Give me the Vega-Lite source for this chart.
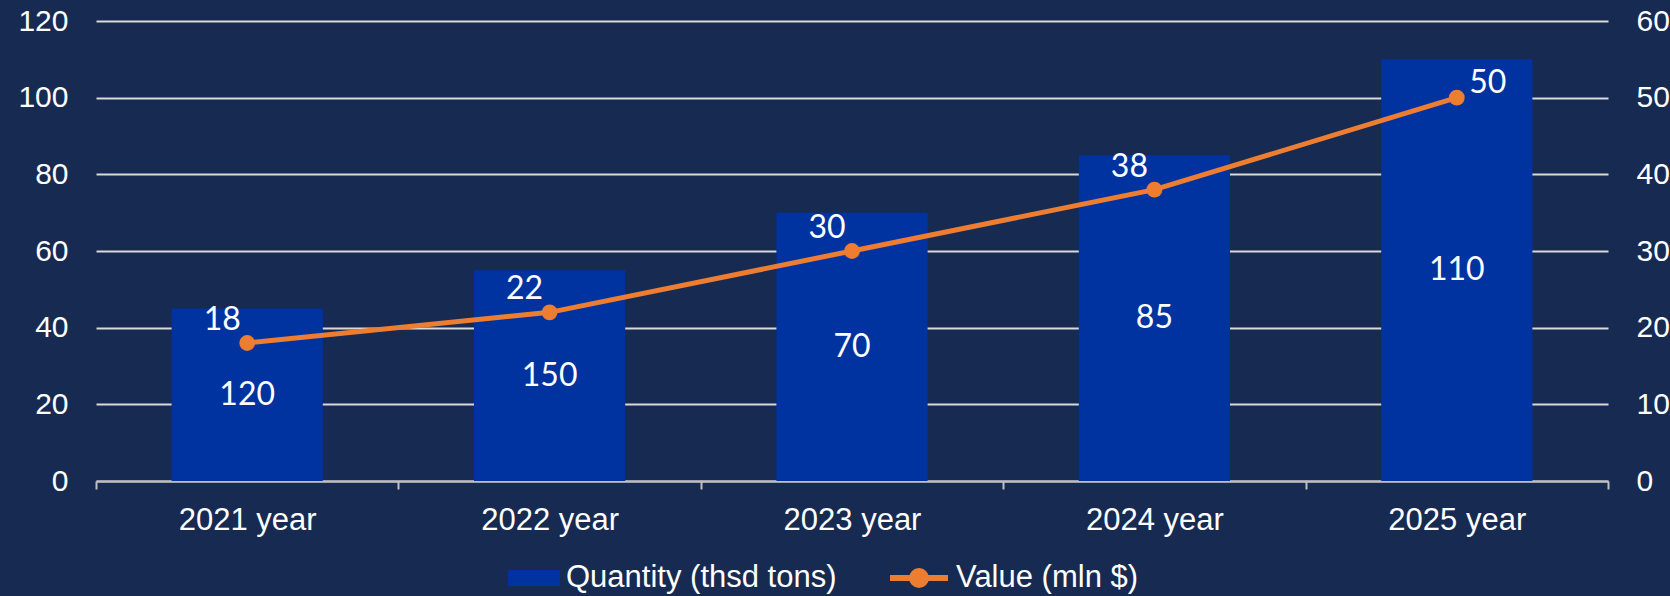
{
  "$schema": "https://vega.github.io/schema/vega-lite/v6.json",
  "width": 1512,
  "height": 460,
  "autosize": {"type": "none"},
  "padding": {"left": 96, "top": 21, "right": 62, "bottom": 115},
  "background": "#162a52",
  "config": {
    "view": {"stroke": null},
    "axis": {"labelFont": "Liberation Sans", "labelColor": "#ffffff", "labelFontSize": 30, "title": null},
    "legend": {"labelFont": "Liberation Sans", "labelColor": "#ffffff", "labelFontSize": 31, "labelLimit": 0, "padding": 0, "title": null}
  },
  "data": {
    "values": [
      {"year": "2021 year", "quantity": 45, "qtyLabel": "120", "value": 18},
      {"year": "2022 year", "quantity": 55, "qtyLabel": "150", "value": 22},
      {"year": "2023 year", "quantity": 70, "qtyLabel": "70", "value": 30},
      {"year": "2024 year", "quantity": 85, "qtyLabel": "85", "value": 38},
      {"year": "2025 year", "quantity": 110, "qtyLabel": "110", "value": 50}
    ]
  },
  "encoding": {
    "x": {
      "field": "year",
      "type": "nominal",
      "sort": null,
      "scale": {"paddingInner": 0, "paddingOuter": 0},
      "axis": {
        "labelAngle": 0,
        "labelFontSize": 31,
        "domainColor": "#bfbfbf",
        "domainWidth": 2,
        "tickColor": "#bfbfbf",
        "tickWidth": 2,
        "tickSize": 8,
        "tickBand": "extent",
        "labelPadding": 16,
        "grid": false
      }
    }
  },
  "layer": [
    {
      "mark": {"type": "bar", "width": {"band": 0.5}},
      "encoding": {
        "y": {
          "field": "quantity",
          "type": "quantitative",
          "scale": {"domain": [0, 120], "nice": false},
          "axis": {
            "values": [0, 20, 40, 60, 80, 100, 120],
            "grid": true,
            "gridColor": "#d9d9d9",
            "gridWidth": 2,
            "domain": false,
            "ticks": false,
            "labelPadding": 28
          }
        },
        "fill": {
          "datum": "Quantity (thsd tons)",
          "type": "nominal",
          "scale": {"range": ["#0033a0"]},
          "legend": {
            "orient": "none",
            "legendX": 412,
            "legendY": 531,
            "symbolType": "M-1,-0.31H1V0.31H-1Z",
            "symbolSize": 2704,
            "symbolStrokeWidth": 0,
            "labelOffset": 6
          }
        }
      }
    },
    {
      "mark": {"type": "text", "font": "Lato", "fontSize": 32, "color": "#ffffff", "baseline": "middle", "align": "center"},
      "encoding": {
        "y": {"field": "quantity", "type": "quantitative", "scale": {"domain": [0, 240], "nice": false}, "axis": null},
        "text": {"field": "qtyLabel", "type": "nominal"}
      }
    },
    {
      "mark": {"type": "line", "strokeWidth": 5},
      "encoding": {
        "y": {
          "field": "value",
          "type": "quantitative",
          "scale": {"domain": [0, 60], "nice": false},
          "axis": {
            "orient": "right",
            "values": [0, 10, 20, 30, 40, 50, 60],
            "grid": false,
            "domain": false,
            "ticks": false,
            "labelPadding": 28
          }
        },
        "stroke": {
          "datum": "Value (mln $)",
          "type": "nominal",
          "scale": {"range": ["#ed7d31"]},
          "legend": {
            "orient": "none",
            "legendX": 791,
            "legendY": 525,
            "symbolType": "M-1,0H1M0.24,0A0.24,0.24,0,1,1,-0.24,0A0.24,0.24,0,1,1,0.24,0Z",
            "symbolSize": 3364,
            "symbolStrokeWidth": 6,
            "labelOffset": 5,
            "encode": {"symbols": {"update": {"fill": {"value": "#ed7d31"}, "stroke": {"value": "#ed7d31"}}}}
          }
        }
      }
    },
    {
      "mark": {"type": "point", "filled": true, "size": 250, "color": "#ed7d31", "opacity": 1},
      "encoding": {
        "y": {"field": "value", "type": "quantitative", "scale": {"domain": [0, 60], "nice": false}, "axis": null}
      }
    },
    {
      "transform": [{"filter": "datum.value < 50"}],
      "mark": {"type": "text", "font": "Lato", "fontSize": 32, "color": "#ffffff", "baseline": "middle", "align": "center", "dx": -25, "dy": -23},
      "encoding": {
        "y": {"field": "value", "type": "quantitative", "scale": {"domain": [0, 60], "nice": false}, "axis": null},
        "text": {"field": "value", "type": "quantitative"}
      }
    },
    {
      "transform": [{"filter": "datum.value >= 50"}],
      "mark": {"type": "text", "font": "Lato", "fontSize": 32, "color": "#ffffff", "baseline": "middle", "align": "center", "dx": 31, "dy": -15},
      "encoding": {
        "y": {"field": "value", "type": "quantitative", "scale": {"domain": [0, 60], "nice": false}, "axis": null},
        "text": {"field": "value", "type": "quantitative"}
      }
    }
  ],
  "resolve": {"scale": {"y": "independent"}}
}
